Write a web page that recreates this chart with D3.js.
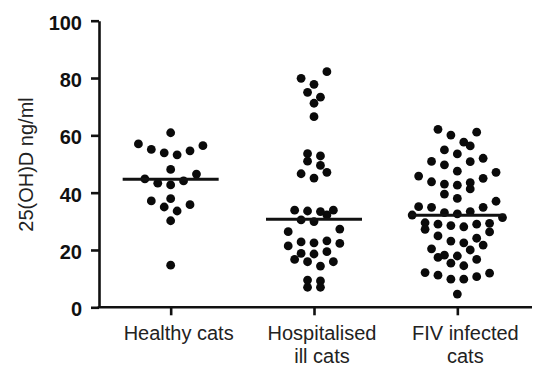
<!DOCTYPE html>
<html>
<head>
<meta charset="utf-8">
<script src="https://cdn.jsdelivr.net/npm/d3@7"></script>
<style>
  html, body { margin: 0; padding: 0; background: #fff; }
  svg { display: block; font-family: "Liberation Sans", Arial, sans-serif; }
</style>
</head>
<body>
<svg id="chart" width="545" height="386"></svg>
<script>
// ---- data ----
const categories = ["Healthy cats", "Hospitalised ill cats", "FIV infected cats"];
const categoryLines = [["Healthy cats"], ["Hospitalised", "ill cats"], ["FIV infected", "cats"]];
const healthy = [60.9, 57.0, 56.4, 55.1, 54.6, 53.9, 53.2, 48.1, 46.5, 44.8, 44.1, 43.3, 42.7,
                 37.9, 37.1, 35.0, 35.8, 33.6, 30.2, 14.7];
const hospitalised = [82.2, 79.9, 77.8, 75.0, 73.3, 71.2, 66.5, 52.8, 53.6, 49.5, 51.0, 46.6, 47.1, 45.1,
                      33.9, 33.6, 32.2, 33.4, 33.9, 30.5, 29.9, 27.3, 26.4, 22.8, 22.5, 21.4, 22.3, 23.2,
                      18.8, 19.4, 16.7, 15.9, 14.4, 15.9, 18.6, 9.2, 7.0, 7.0, 9.5];
const fiv = [61.1, 60.1, 62.1, 57.6, 54.9, 56.3, 53.5, 52.0, 50.8, 49.7, 50.9, 47.1, 47.5, 43.8, 43.0,
             45.0, 45.8, 41.3, 42.6, 43.5, 38.0, 39.5, 37.0, 35.1, 34.9, 34.9, 33.0, 33.4, 32.2, 31.3,
             32.6, 29.0, 28.5, 29.5, 27.2, 29.3, 28.1, 29.0, 26.3, 24.9, 24.1, 22.5, 23.1, 21.7, 20.4,
             20.0, 17.9, 16.7, 17.4, 18.2, 14.5, 15.4, 12.1, 11.2, 9.8, 9.8, 10.7, 11.9, 4.6];
const medians = [44.7, 30.7, 32.1];
const yTicks = [0, 20, 40, 60, 80, 100];
const yLabel = "25(OH)D ng/ml";

const groups = [healthy, hospitalised, fiv];

// ---- layout ----
const plotLeft = 99, plotRight = 532, plotTop = 20.7, plotBottom = 307.3;
const dotR = 4.4, slotStep = 6.45, binSize = 5, halfMedian = 48;

const svg = d3.select("#chart");
const y = d3.scaleLinear().domain([0, 100]).range([plotBottom, plotTop]);
const x = d3.scalePoint().domain(categories).range([plotLeft, 529]).padding(0.5);

// binned dot-plot layout (rows centred, lowest value in the middle)
function swarm(values, cx) {
  const items = values.map(v => ({ v }));
  const bins = d3.group(items, d => Math.floor((d.v + binSize / 2) / binSize));
  for (const [, arr] of bins) {
    arr.sort((a, b) => a.v - b.v);
    const n = arr.length;
    arr.forEach((d, k) => {
      let slot;
      if (n % 2 === 1) {
        slot = k === 0 ? 0 : (k % 2 === 1 ? -1 : 1) * 2 * Math.ceil(k / 2);
      } else {
        slot = (k % 2 === 0 ? 1 : -1) * (2 * Math.floor(k / 2) + 1);
      }
      d.x = cx + slot * slotStep;
      d.y = y(d.v);
    });
  }
  return items;
}

// ---- axes ----
const yAxis = d3.axisLeft(y).tickValues(yTicks).tickSize(8).tickSizeOuter(0).tickPadding(9);
const gy = svg.append("g").attr("transform", `translate(${plotLeft},0)`).call(yAxis);
gy.select(".domain").attr("stroke", "#111").attr("stroke-width", 2.6);
gy.selectAll(".tick line").attr("stroke", "#111").attr("stroke-width", 2.6);
gy.selectAll(".tick text")
  .attr("fill", "#111").attr("font-size", 20).attr("font-weight", "bold")
  .attr("font-family", "Liberation Sans, Arial, sans-serif").attr("dy", "0.42em");

svg.append("line")
  .attr("x1", plotLeft - 1.3).attr("x2", plotRight)
  .attr("y1", y(0)).attr("y2", y(0))
  .attr("stroke", "#111").attr("stroke-width", 2.6);

const xAxis = d3.axisBottom(x).tickSize(8).tickSizeOuter(0).tickFormat(() => "");
const gx = svg.append("g").attr("transform", `translate(0,${y(0)})`).call(xAxis);
gx.select(".domain").remove();
gx.selectAll(".tick line").attr("stroke", "#111").attr("stroke-width", 2.6);

// category labels
categories.forEach((c, i) => {
  const t = svg.append("text")
    .attr("text-anchor", "middle")
    .attr("font-size", 20)
    .attr("fill", "#222")
    .attr("font-family", "Liberation Sans, Arial, sans-serif");
  categoryLines[i].forEach((line, j) => {
    t.append("tspan")
      .attr("x", x(c) + 8)
      .attr("y", 340 + j * 22.5)
      .text(line);
  });
});

// y title
svg.append("text")
  .attr("transform", `translate(32.5,${(plotTop + plotBottom) / 2 + 0.5}) rotate(-90)`)
  .attr("text-anchor", "middle")
  .attr("font-size", 20)
  .attr("fill", "#222")
  .attr("font-family", "Liberation Sans, Arial, sans-serif")
  .text(yLabel);

// ---- dots ----
groups.forEach((vals, i) => {
  const pts = swarm(vals, x(categories[i]));
  svg.append("g").selectAll("circle").data(pts).join("circle")
    .attr("cx", d => d.x).attr("cy", d => d.y).attr("r", dotR)
    .attr("fill", "#0a0a0a");
});

// ---- medians ----
svg.append("g").selectAll("line").data(medians).join("line")
  .attr("x1", (d, i) => x(categories[i]) - halfMedian)
  .attr("x2", (d, i) => x(categories[i]) + halfMedian)
  .attr("y1", d => y(d)).attr("y2", d => y(d))
  .attr("stroke", "#111").attr("stroke-width", 3);
</script>
</body>
</html>
